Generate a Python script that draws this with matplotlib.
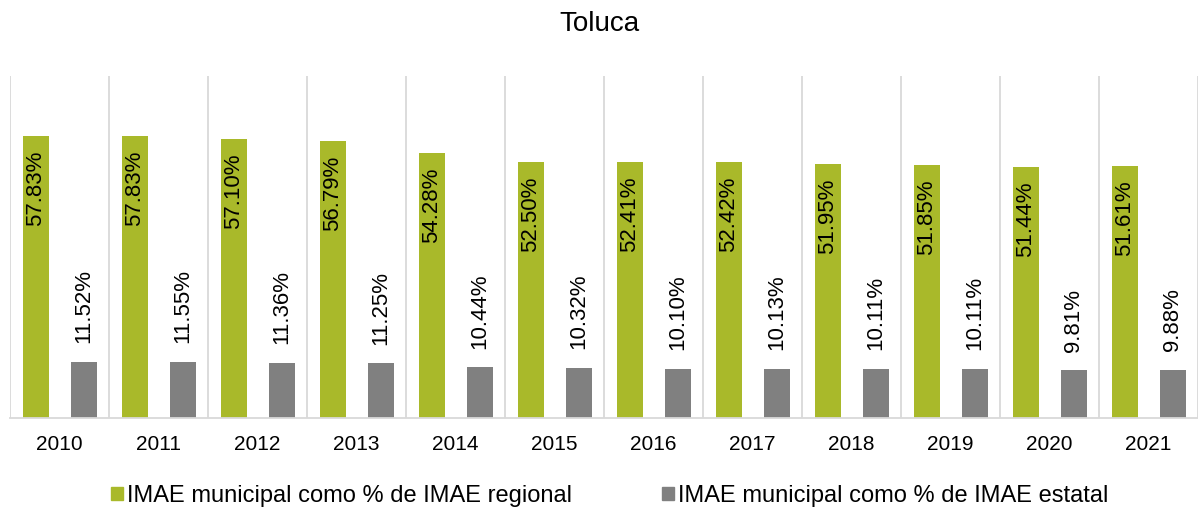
import numpy as np
import matplotlib.pyplot as plt
from matplotlib.patches import Patch

plt.rcParams['font.family'] = ['Liberation Sans', 'DejaVu Sans']

years = ['2010', '2011', '2012', '2013', '2014', '2015',
         '2016', '2017', '2018', '2019', '2020', '2021']
regional = [57.83, 57.83, 57.10, 56.79, 54.28, 52.50,
            52.41, 52.42, 51.95, 51.85, 51.44, 51.61]
estatal = [11.52, 11.55, 11.36, 11.25, 10.44, 10.32,
           10.10, 10.13, 10.11, 10.11, 9.81, 9.88]

green = '#A9B92A'
grey = '#808080'

fig = plt.figure(figsize=(11.98, 5.08), dpi=100)
ax = fig.add_axes([0.0083, 0.177, 0.9917, 0.673])

x = np.arange(len(years))
w = 0.26
b1 = ax.bar(x - 0.24, regional, w, color=green)
b2 = ax.bar(x + 0.245, estatal, w, color=grey)

for r, v in zip(b1, regional):
    ax.text(r.get_x() + r.get_width() / 2, v - 3.0, f'{v:.2f}%',
            rotation=90, ha='center', va='top', fontsize=16, color='#000000')
for r, v in zip(b2, estatal):
    ax.text(r.get_x() + r.get_width() / 2, v + 3.8, f'{v:.2f}%',
            rotation=90, ha='center', va='bottom', fontsize=16, color='#000000')

ax.set_xlim(-0.5, len(years) - 0.5)
ax.set_ylim(0, 70)
ax.set_yticks([])
ax.set_xticks(x)
ax.set_xticklabels(years, fontsize=15)
ax.tick_params(axis='x', length=0, pad=12)

# category separators
for b in np.arange(len(years) + 1) - 0.5:
    ax.axvline(b, color='#D9D9D9', lw=1.3, zorder=0)

for s in ['top', 'right', 'left']:
    ax.spines[s].set_visible(False)
ax.spines['bottom'].set_color('#D9D9D9')
ax.spines['bottom'].set_linewidth(1.3)

fig.suptitle('Toluca', fontsize=20, y=0.978)

handles = [Patch(color=green, label='IMAE municipal como % de IMAE regional'),
           Patch(color=grey, label='IMAE municipal como % de IMAE estatal')]
fig.legend(handles=handles, loc='lower center', ncol=2, frameon=False,
           fontsize=17, bbox_to_anchor=(0.509, -0.04), handlelength=0.5,
           handleheight=0.5, handletextpad=0.2, columnspacing=3.8)

fig.savefig('out.png', dpi=100)
